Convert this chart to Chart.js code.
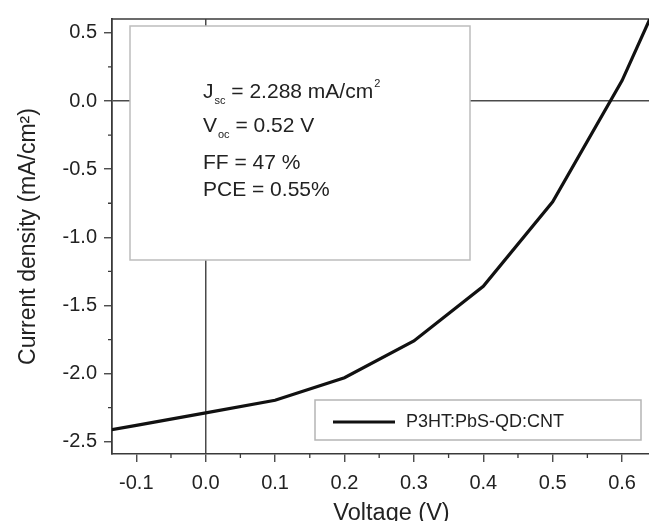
<!DOCTYPE html>
<html>
<head>
<meta charset="utf-8">
<script src="https://cdn.jsdelivr.net/npm/chart.js@4.4.1/dist/chart.umd.min.js"></script>
<style>
  html, body { margin: 0; padding: 0; background: #fff; overflow: hidden; }
  /* the plot frame runs on past the right edge of the picture, so the canvas is wider than the window */
  #wrap { position: relative; width: 671px; height: 521px; }
</style>
</head>
<body>
<div id="wrap"><canvas id="ivChart"></canvas></div>
<script>
// J-V curve
const voltage = [-0.2, -0.1, 0.0, 0.1, 0.2, 0.3, 0.4, 0.5, 0.6, 0.7];
const current = [-2.47, -2.38, -2.288, -2.196, -2.03, -1.76, -1.36, -0.74, 0.15, 1.28];
const seriesName = 'P3HT:PbS-QD:CNT';

const xTicks = [-0.1, 0.0, 0.1, 0.2, 0.3, 0.4, 0.5, 0.6];
const xMinorTicks = [-0.05, 0.05, 0.15, 0.25, 0.35, 0.45, 0.55, 0.65];
const yTicks = [-2.5, -2.0, -1.5, -1.0, -0.5, 0.0, 0.5];
const yMinorTicks = [-2.25, -1.75, -1.25, -0.75, -0.25, 0.25];

// text in the inset box: [main, subscript, main, superscript]
const noteLines = [
  ['J', 'sc', ' = 2.288 mA/cm', '2'],
  ['V', 'oc', ' = 0.52 V', ''],
  ['FF = 47 %', '', '', ''],
  ['PCE = 0.55%', '', '', '']
];

const FONT = '"Liberation Sans", Arial, sans-serif';
const AXIS = '#3a3a3a';

const extras = {
  id: 'extras',
  beforeDatasetsDraw(chart) {
    const {ctx, chartArea: a, scales: {x, y}} = chart;
    ctx.save();

    // top frame line
    ctx.strokeStyle = AXIS;
    ctx.lineWidth = 1.5;
    ctx.beginPath();
    ctx.moveTo(a.left, a.top);
    ctx.lineTo(a.right, a.top);
    ctx.stroke();

    // minor ticks
    ctx.lineWidth = 1.3;
    ctx.beginPath();
    xMinorTicks.forEach(v => {
      const px = x.getPixelForValue(v);
      ctx.moveTo(px, a.bottom);
      ctx.lineTo(px, a.bottom + 4);
    });
    yMinorTicks.forEach(v => {
      const py = y.getPixelForValue(v);
      ctx.moveTo(a.left, py);
      ctx.lineTo(a.left - 4, py);
    });
    ctx.stroke();

    // inset box with device parameters
    const bx = a.left + 18, by = a.top + 7, bw = 340, bh = 234;
    ctx.fillStyle = '#fff';
    ctx.fillRect(bx, by, bw, bh);
    ctx.strokeStyle = '#bdbdbd';
    ctx.lineWidth = 1.5;
    ctx.strokeRect(bx, by, bw, bh);

    const baselines = [72, 106, 143, 170];
    ctx.fillStyle = '#222';
    ctx.textBaseline = 'alphabetic';
    noteLines.forEach((parts, i) => {
      let tx = bx + 73;
      const ty = by + baselines[i];
      ctx.font = '21px ' + FONT;
      ctx.fillText(parts[0], tx, ty);
      tx += ctx.measureText(parts[0]).width;
      if (parts[1]) {
        ctx.font = '11px ' + FONT;
        ctx.fillText(parts[1], tx + 1, ty + 6);
        tx += ctx.measureText(parts[1]).width + 1;
      }
      if (parts[2]) {
        ctx.font = '21px ' + FONT;
        ctx.fillText(parts[2], tx, ty);
        tx += ctx.measureText(parts[2]).width;
      }
      if (parts[3]) {
        ctx.font = '11px ' + FONT;
        ctx.fillText(parts[3], tx + 1, ty - 11);
      }
    });

    // legend box
    const lx = 315, ly = 400, lw = 326, lh = 40;
    ctx.fillStyle = '#fff';
    ctx.fillRect(lx, ly, lw, lh);
    ctx.strokeStyle = '#b5b5b5';
    ctx.lineWidth = 1.5;
    ctx.strokeRect(lx, ly, lw, lh);
    ctx.strokeStyle = '#111';
    ctx.lineWidth = 3.2;
    ctx.beginPath();
    ctx.moveTo(lx + 18, ly + 22);
    ctx.lineTo(lx + 80, ly + 22);
    ctx.stroke();
    ctx.fillStyle = '#222';
    ctx.font = '18px ' + FONT;
    ctx.textBaseline = 'middle';
    ctx.fillText(seriesName, lx + 91, ly + 22);

    ctx.restore();
  }
};

const zeroLine = c => (c.tick && Math.abs(c.tick.value) < 1e-9) ? '#4a4a4a' : 'transparent';

new Chart(document.getElementById('ivChart'), {
  type: 'scatter',
  data: {
    datasets: [{
      label: seriesName,
      data: voltage.map((v, i) => ({x: v, y: current[i]})),
      showLine: true,
      borderColor: '#111',
      borderWidth: 3.2,
      pointRadius: 0,
      tension: 0
    }]
  },
  options: {
    responsive: true,
    maintainAspectRatio: false,
    animation: false,
    layout: { padding: { top: 16, right: 0, left: 0, bottom: 0 } },
    plugins: {
      legend: { display: false },
      tooltip: { enabled: false }
    },
    scales: {
      x: {
        type: 'linear',
        min: -0.135,
        max: 0.6705,
        afterBuildTicks: s => { s.ticks = xTicks.map(v => ({value: v})); },
        afterFit: s => { s.height = 67; },
        border: { display: true, color: AXIS, width: 1.5 },
        grid: {
          drawOnChartArea: true,
          color: zeroLine,
          lineWidth: 1.5,
          tickColor: AXIS,
          tickLength: 8,
          tickWidth: 1.3
        },
        ticks: {
          color: '#222',
          font: { family: FONT, size: 20 },
          padding: 9,
          maxRotation: 0,
          callback: v => v.toFixed(1)
        },
        title: {
          display: true,
          text: 'Voltage (V)',
          color: '#222',
          font: { family: FONT, size: 23.5 },
          padding: { top: 0, bottom: -7 }
        }
      },
      y: {
        type: 'linear',
        min: -2.59,
        max: 0.602,
        afterBuildTicks: s => { s.ticks = yTicks.map(v => ({value: v})); },
        afterFit: s => { s.width = 112; },
        border: { display: true, color: AXIS, width: 1.8 },
        grid: {
          drawOnChartArea: true,
          color: zeroLine,
          lineWidth: 1.5,
          tickColor: AXIS,
          tickLength: 8,
          tickWidth: 1.3
        },
        ticks: {
          color: '#222',
          font: { family: FONT, size: 20 },
          padding: 7,
          callback: v => v.toFixed(1)
        },
        title: {
          display: true,
          text: 'Current density (mA/cm²)',
          color: '#222',
          font: { family: FONT, size: 23 },
          padding: { top: 15, bottom: 0 }
        }
      }
    }
  },
  plugins: [extras]
});
</script>
</body>
</html>
